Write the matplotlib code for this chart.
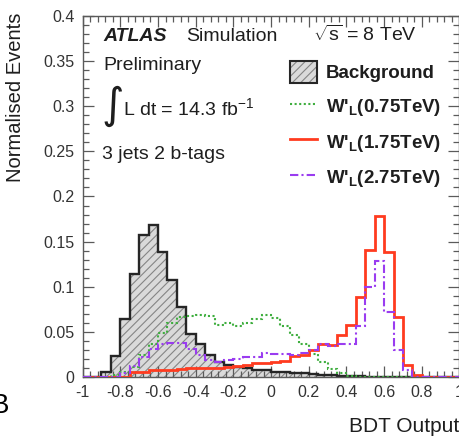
import numpy as np
import matplotlib
matplotlib.use("Agg")
import matplotlib.pyplot as plt
from matplotlib.patches import Patch
from matplotlib.lines import Line2D


# =========================
# 1. Data (normalised BDT output, 40 bins from -1 to 1)
# =========================
BIN_EDGES = np.linspace(-1.0, 1.0, 41)

background = [
    0.0, 0.0, 0.006, 0.023, 0.064, 0.114, 0.157, 0.168, 0.139, 0.108,
    0.078, 0.048, 0.036, 0.024, 0.017, 0.013, 0.011, 0.010, 0.008, 0.008,
    0.006, 0.006, 0.004, 0.004, 0.003, 0.002, 0.002, 0.001, 0.001, 0.001,
    0.0005, 0.0005, 0.0, 0.0, 0.0, 0.0, 0.0, 0.0, 0.0, 0.0,
]
wprime_075 = [
    0.0, 0.0, 0.0, 0.002, 0.005, 0.011, 0.024, 0.036, 0.049, 0.060,
    0.066, 0.068, 0.069, 0.068, 0.058, 0.060, 0.057, 0.060, 0.064, 0.069,
    0.065, 0.056, 0.047, 0.036, 0.026, 0.017, 0.009, 0.004, 0.001, 0.0,
    0.0, 0.0, 0.0, 0.0, 0.0, 0.0, 0.0, 0.0, 0.0, 0.0,
]
wprime_175 = [
    0.0, 0.0, 0.0, 0.0, 0.0, 0.005, 0.006, 0.008, 0.008, 0.008,
    0.009, 0.010, 0.010, 0.010, 0.010, 0.011, 0.012, 0.013, 0.015, 0.015,
    0.017, 0.018, 0.023, 0.024, 0.030, 0.036, 0.035, 0.046, 0.058, 0.089,
    0.141, 0.178, 0.139, 0.067, 0.013, 0.002, 0.0, 0.0, 0.0, 0.0,
]
wprime_275 = [
    0.0, 0.0, 0.0, 0.0, 0.004, 0.012, 0.022, 0.031, 0.036, 0.038,
    0.038, 0.031, 0.024, 0.019, 0.017, 0.019, 0.020, 0.022, 0.022, 0.027,
    0.026, 0.026, 0.024, 0.027, 0.030, 0.036, 0.034, 0.037, 0.037, 0.056,
    0.100, 0.128, 0.072, 0.030, 0.008, 0.0, 0.0, 0.0, 0.0, 0.0,
]

x_ticks = [-1, -0.8, -0.6, -0.4, -0.2, 0, 0.2, 0.4, 0.6, 0.8, 1]
x_ticklabels = ["-1", "-0.8", "-0.6", "-0.4", "-0.2", "0", "0.2", "0.4", "0.6", "0.8", "1"]
y_ticks = [0, 0.05, 0.1, 0.15, 0.2, 0.25, 0.3, 0.35, 0.4]
y_ticklabels = ["0", "0.05", "0.1", "0.15", "0.2", "0.25", "0.3", "0.35", "0.4"]


# =========================
# 2. Style
# =========================
plt.rcParams["font.family"] = ["Liberation Sans", "DejaVu Sans"]
plt.rcParams["mathtext.fontset"] = "custom"
plt.rcParams["mathtext.rm"] = "Liberation Sans"
plt.rcParams["mathtext.it"] = "Liberation Sans:italic"
plt.rcParams["mathtext.bf"] = "Liberation Sans:bold"
plt.rcParams["hatch.linewidth"] = 0.8

bkg_fill = "#dadada"
bkg_hatch = "#858585"
bkg_line = "#262626"
green = "#3fae3f"
red = "#ff3b1f"
purple = "#9a3cf0"
frame = "#5a5a5a"
text_col = "#1e1e1e"

fig = plt.figure(figsize=(4.6, 4.38), dpi=100)
ax = fig.add_axes([0.1796, 0.1393, 0.8193, 0.8242])


# =========================
# 3. Histograms
# =========================
ax.stairs(background, BIN_EDGES, fill=True, facecolor=bkg_fill,
          edgecolor=bkg_hatch, hatch="////", linewidth=0, zorder=1)
ax.stairs(background, BIN_EDGES, color=bkg_line, linewidth=1.7, zorder=2)
ax.stairs(wprime_075, BIN_EDGES, color=green, linewidth=1.5,
          linestyle=(0, (1, 1.2)), zorder=3)
ax.stairs(wprime_175, BIN_EDGES, color=red, linewidth=2.0, zorder=4)
ax.stairs(wprime_275, BIN_EDGES, color=purple, linewidth=1.5,
          linestyle=(0, (4, 1.5, 1, 1.5)), zorder=5)


# =========================
# 4. Axes
# =========================
ax.set_xlim(-1, 1)
ax.set_ylim(0, 0.4)
ax.set_xticks(x_ticks)
ax.set_xticklabels(x_ticklabels)
ax.set_yticks(y_ticks)
ax.set_yticklabels(y_ticklabels)
ax.set_xticks(np.arange(-1, 1.0001, 0.04), minor=True)
ax.set_yticks(np.arange(0, 0.4001, 0.01), minor=True)

ax.tick_params(which="both", direction="in", top=True, right=True,
               color=frame, width=0.9)
ax.tick_params(which="major", length=8)
ax.tick_params(which="minor", length=4.3)
ax.tick_params(axis="x", which="major", pad=5.5, labelsize=11.5, labelcolor="#333333")
ax.tick_params(axis="y", which="major", pad=6.0, labelsize=11.5, labelcolor="#333333")

for spine in ax.spines.values():
    spine.set_color(frame)
    spine.set_linewidth(1.0)

ax.set_xlabel("BDT Output", fontsize=15, color=text_col, loc="right")
ax.xaxis.set_label_coords(1.0, -0.110)
ax.set_ylabel("Normalised Events", fontsize=14.5, color=text_col, loc="top")
ax.yaxis.set_label_coords(-0.152, 1.01)


# =========================
# 5. Labels inside the frame
# =========================
ax.text(0.054, 0.931, "ATLAS", transform=ax.transAxes, fontsize=14,
        fontweight="bold", fontstyle="italic", color=text_col, va="baseline")
ax.text(0.274, 0.931, "Simulation", transform=ax.transAxes, fontsize=14,
        color=text_col, va="baseline")
ax.text(0.612, 0.931, r"$\sqrt{\mathrm{s}}$ = 8 TeV", transform=ax.transAxes,
        fontsize=14, color=text_col, va="baseline")
ax.text(0.054, 0.850, "Preliminary", transform=ax.transAxes, fontsize=14,
        color=text_col, va="baseline")
ax.text(0.050, 0.752, "\u222b", transform=ax.transAxes, fontsize=31,
        family="DejaVu Sans", color=text_col, va="center")
ax.text(0.107, 0.726, r"L dt = 14.3 fb$^{\mathregular{-1}}$", transform=ax.transAxes,
        fontsize=14, color=text_col, va="baseline")
ax.text(0.052, 0.604, "3 jets 2 b-tags", transform=ax.transAxes, fontsize=14,
        color=text_col, va="baseline")

fig.text(0.0195, 0.057, "B", fontsize=20, color="black", ha="right", va="baseline")


# =========================
# 6. Legend
# =========================
bkg_handle = (
    Patch(facecolor=bkg_fill, edgecolor=bkg_hatch, hatch="////", linewidth=0),
    Patch(facecolor="none", edgecolor=bkg_line, linewidth=1.5),
)
handles = [
    bkg_handle,
    Line2D([], [], color=green, linewidth=1.5, linestyle=(0, (1, 1.2))),
    Line2D([], [], color=red, linewidth=2.0),
    Line2D([], [], color=purple, linewidth=1.5, linestyle=(0, (4, 1.5, 1, 1.5))),
]
labels = [
    "Background",
    r"W'$_{\mathbf{L}}$(0.75TeV)",
    r"W'$_{\mathbf{L}}$(1.75TeV)",
    r"W'$_{\mathbf{L}}$(2.75TeV)",
]
leg = ax.legend(handles, labels, loc="upper left", bbox_to_anchor=(0.550, 0.874),
                frameon=False, borderpad=0, borderaxespad=0,
                prop={"size": 13.5, "weight": "bold"},
                handlelength=1.45, handleheight=1.35, handletextpad=0.45,
                labelspacing=0.68)
for t in leg.get_texts():
    t.set_color(text_col)


# =========================
# 7. Save
# =========================
fig.savefig("out.png", dpi=100)
